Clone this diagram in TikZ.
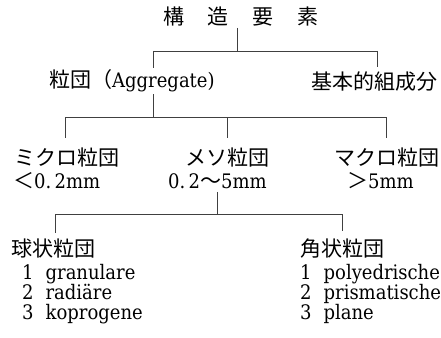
\documentclass[tikz,border=0pt]{standalone}
\usepackage{fontspec}
\setmainfont{DejaVu Serif Condensed}
\newfontfamily\jp{Noto Sans CJK JP}
\begin{document}
\begin{tikzpicture}[x=1pt,y=-1pt,
  jpt/.style={inner sep=0pt, font=\fontsize{21}{24}\selectfont\jp},
  lat/.style={inner sep=0pt, font=\fontsize{20}{23}\selectfont},
  lst/.style={inner sep=0pt, align=left, anchor=north west, font=\fontsize{20}{20}\selectfont},
  ln/.style={draw=black!75, line width=0.7pt}]
\useasboundingbox[fill=white] (0,0) rectangle (441,337);

% texts
\node[jpt, font=\fontsize{21}{24}\selectfont\jp] (title) at (241,17) {構\hspace{24pt}造\hspace{24pt}要\hspace{24pt}素};

\node[lat, anchor=west] (agg) at (49,81) {{\jp\fontsize{21}{24}\selectfont 粒団（}Aggregate)};
\node[jpt, anchor=west] (basic) at (311,82) {基本的組成分};

\node[jpt, anchor=west] (micro) at (14,158) {ミクロ粒団};
\node[lat, anchor=west] (microsz) at (13,181) {{\jp\fontsize{21}{24}\selectfont ＜}0.\,2mm};
\node[jpt, anchor=west] (meso) at (185,158) {メソ粒団};
\node[lat, anchor=west] (mesosz) at (168,181) {0.\,2{\jp\fontsize{21}{24}\selectfont ～}5mm};
\node[jpt, anchor=west] (macro) at (334,158) {マクロ粒団};
\node[lat, anchor=west] (macrosz) at (347,181) {{\jp\fontsize{21}{24}\selectfont ＞}5mm};

\node[jpt, anchor=west] (sph) at (11,249) {球状粒団};
\node[lst] (sphlist) at (22,264) {1\hspace{0.6em}granulare\\2\hspace{0.6em}radiäre\\3\hspace{0.6em}koprogene};

\node[jpt, anchor=west] (ang) at (300,249) {角状粒団};
\node[lst] (anglist) at (300,264) {1\hspace{0.6em}polyedrische\\2\hspace{0.6em}prismatische\\3\hspace{0.6em}plane};

% bus coordinates
\coordinate (b1m) at (237,51);
\coordinate (b1l) at (153,51);
\coordinate (b1r) at (377,51);
\coordinate (b2m) at (153,117);
\coordinate (b2l) at (65,117);
\coordinate (b2c) at (227,117);
\coordinate (b2r) at (386,117);
\coordinate (b3m) at (217,214);
\coordinate (b3l) at (55,214);
\coordinate (b3r) at (342,214);

% connectors
\draw[ln] ([yshift=-1pt]title.south -| b1m) -- (b1m);
\draw[ln] (b1l) -- (b1r);
\draw[ln] (b1l) -- ([yshift=2pt]agg.north -| b1l);
\draw[ln] (b1r) -- ([yshift=5pt]basic.north -| b1r);

\draw[ln] ([yshift=-2pt]agg.south -| b2m) -- (b2m);
\draw[ln] (b2l) -- (b2r);
\draw[ln] (b2l) -- ([yshift=10pt]micro.north -| b2l);
\draw[ln] (b2c) -- ([yshift=10pt]meso.north -| b2c);
\draw[ln] (b2r) -- ([yshift=10pt]macro.north -| b2r);

\draw[ln] ([yshift=-3pt]mesosz.south -| b3m) -- (b3m);
\draw[ln] (b3l) -- (b3r);
\draw[ln] (b3l) -- ([yshift=6pt]sph.north -| b3l);
\draw[ln] (b3r) -- ([yshift=8pt]ang.north -| b3r);
\end{tikzpicture}
\end{document}
